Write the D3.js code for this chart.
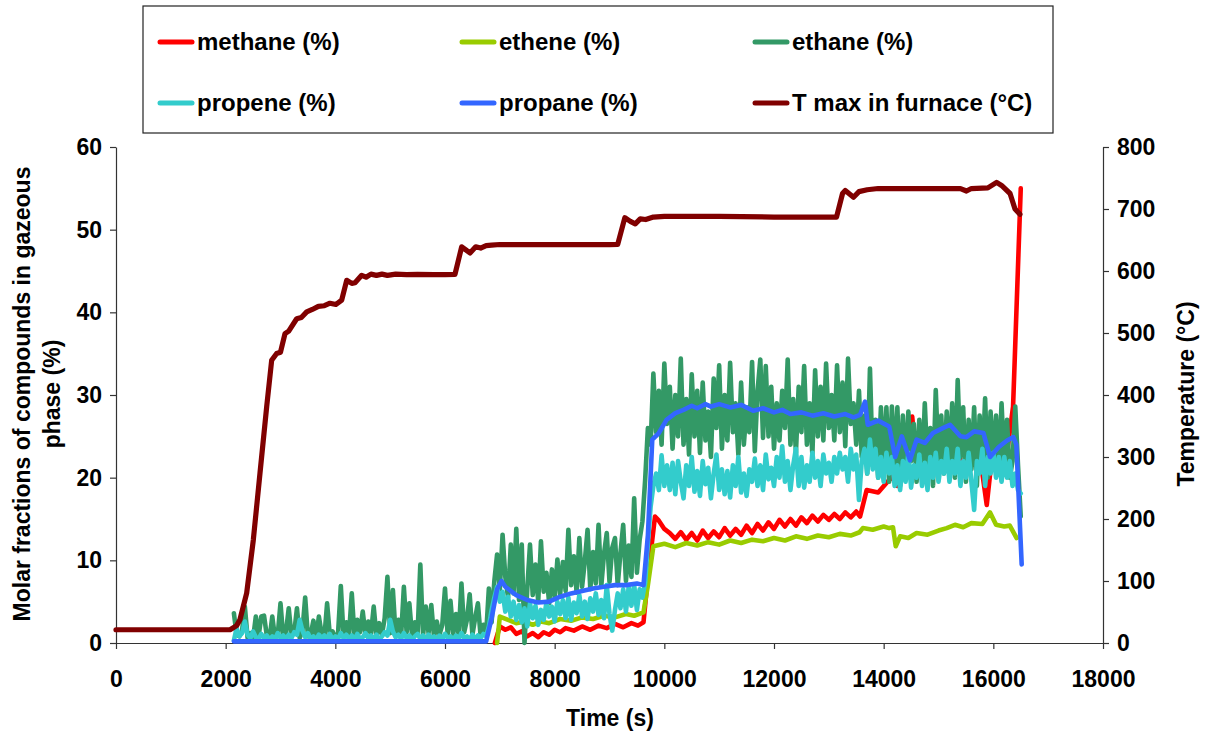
<!DOCTYPE html>
<html><head><meta charset="utf-8">
<script src="https://cdn.jsdelivr.net/npm/d3@7"></script>
<style>
body{margin:0;background:#fff;}
text{font-family:"Liberation Sans",Arial,sans-serif;font-weight:bold;fill:#000;}
</style>
</head><body>
<svg id="c" width="1207" height="735"></svg>
<script>
// ---------- DATA ----------
const xTicks = [0,2000,4000,6000,8000,10000,12000,14000,16000,18000];
const yLeftTicks = [0,10,20,30,40,50,60];
const yRightTicks = [0,100,200,300,400,500,600,700,800];

const seriesNames = ["methane (%)","ethene (%)","ethane (%)","propene (%)","propane (%)","T max in furnace (°C)"];
const seriesColors = ["#FF0000","#99CC00","#339966","#33CCCC","#3366FF","#800000"];

// sampling grid of the noisy analyser signals (s)
const gasGrid = d3.range(2150, 16501, 50);

const ethane = [
 3.6,1.0,0.8,1.5,4.4,0.6,1.2,0.5,3.2,0.8,3.2,3.3,0.9,0.5,3.2,0.6,1.0,4.8,0.7,1.3,
 4.2,0.9,1.2,4.2,0.6,1.5,5.5,0.8,1.0,2.7,0.5,3.2,1.1,0.7,4.8,0.9,1.4,0.6,1.2,6.9,
 0.8,2.5,1.0,6.0,0.7,2.8,1.3,3.8,0.9,2.6,1.1,4.4,0.8,2.4,1.0,3.0,8.0,1.2,6.4,0.9,
 2.8,0.9,6.8,1.3,4.8,0.8,2.5,1.1,9.5,0.9,4.4,1.2,4.6,0.7,2.6,1.0,2.2,6.6,0.8,5.1,
 1.1,3.5,0.9,7.2,1.3,2.8,5.9,1.0,3.0,4.8,0.8,2.2,1.0,6.6,2.5,7.5,10.7,6.5,13.1,8.0,
 5.5,11.9,6.0,13.8,5.2,11.9,0.0,6.5,11.9,5.8,9.5,5.0,12.3,6.2,8.5,4.8,8.9,5.5,10.1,5.9,
 9.8,6.3,13.7,7.0,10.5,6.1,12.7,6.8,9.9,13.7,6.5,11.0,7.2,14.3,6.9,10.8,13.3,7.4,11.5,12.7,
 7.0,10.9,14.3,7.5,11.8,8.0,17.5,8.5,12.5,14.7,19.7,26.0,24.0,32.6,25.5,30.5,24.0,33.8,26.5,31.0,
 23.5,30.0,25.0,34.4,24.0,29.5,22.8,32.5,25.0,30.5,23.0,31.5,24.5,28.0,22.5,32.0,26.0,33.6,23.5,30.0,
 24.5,33.9,25.5,29.0,22.8,31.5,24.0,28.5,25.5,34.0,23.2,30.5,34.3,24.8,33.5,25.0,31.0,23.5,29.0,24.5,
 30.5,26.0,34.3,24.0,29.5,23.0,31.0,25.5,33.5,24.0,29.0,22.8,33.0,25.0,31.0,24.5,33.8,26.0,30.0,24.5,
 33.6,25.5,31.5,23.8,34.4,26.5,29.0,24.0,30.5,22.5,27.5,20.5,33.2,21.5,27.0,20.0,28.5,21.0,28.5,19.5,
 28.6,21.0,28.5,19.0,27.5,20.5,28.0,22.0,26.5,19.5,27.0,20.0,29.0,21.5,26.0,19.0,30.6,22.0,27.5,20.5,
 28.0,21.5,29.0,20.0,31.8,22.5,28.5,19.5,27.0,21.0,28.5,19.0,27.5,21.0,29.6,20.0,28.0,22.0,27.5,20.5,
 29.0,21.5,27.0,20.0,22.0,28.6,21.5,15.3
];

const propene = [
 0.3,1.8,0.8,1.2,2.6,1.0,0.6,1.4,0.7,0.5,1.1,0.6,0.9,0.4,0.8,0.5,1.2,0.6,0.9,0.5,
 1.0,0.6,1.3,1.0,2.8,1.5,0.7,1.2,0.5,0.8,0.4,1.0,0.6,0.9,0.5,1.1,0.4,0.8,0.5,1.2,
 0.6,1.0,0.5,0.9,0.4,1.1,0.5,0.7,1.2,0.6,0.9,0.5,1.0,0.4,0.8,1.3,0.9,2.8,1.4,0.7,
 1.0,0.5,1.2,0.6,0.9,0.4,0.8,1.1,0.5,0.9,0.4,1.0,0.6,0.8,0.4,0.9,0.5,1.1,0.6,0.8,
 0.4,0.9,0.5,1.2,0.6,0.8,0.4,1.0,0.5,0.9,0.6,1.1,0.8,2.0,4.0,5.5,6.8,5.0,6.2,3.8,
 5.6,3.2,5.0,2.8,4.6,2.5,4.2,2.0,4.8,3.0,4.5,2.2,4.0,2.8,4.9,3.2,4.4,2.6,5.0,3.5,
 5.2,3.0,5.5,2.8,4.9,3.6,5.8,3.2,5.0,2.9,5.4,3.8,6.0,3.4,5.2,3.0,7.0,3.5,1.5,4.0,
 6.0,4.2,6.5,3.8,6.8,4.5,7.0,4.0,6.5,5.5,7.3,12.0,16.5,19.0,20.5,18.5,22.7,19.0,21.5,18.5,
 21.8,18.0,22.0,19.5,17.5,21.5,19.0,22.5,18.3,20.8,17.8,22.0,19.2,21.2,17.5,20.5,22.8,18.5,21.0,18.0,
 20.8,17.6,21.5,19.0,22.5,18.2,20.5,17.8,21.0,19.5,22.3,19.0,21.5,18.5,22.8,19.8,21.2,19.0,22.5,20.0,
 23.8,19.5,22.0,18.5,21.5,23.5,19.0,22.5,18.8,21.5,19.5,23.0,20.0,22.0,19.0,22.8,20.5,21.8,19.5,22.5,
 20.5,23.0,21.0,22.5,19.5,23.5,21.0,22.8,17.3,22.0,23.5,20.5,24.6,21.0,23.5,20.0,22.5,19.5,23.0,20.5,
 22.5,19.0,21.5,18.5,22.0,19.5,23.0,18.8,21.5,20.0,22.8,19.0,21.8,18.5,22.5,20.0,23.0,19.5,22.0,20.5,
 23.5,19.5,22.0,20.5,23.5,19.0,22.0,20.0,23.0,19.5,16.1,22.0,20.5,23.5,19.0,22.5,20.5,23.0,20.0,22.5,
 19.5,22.5,20.0,22.0,19.0,20.5,18.5,18.1
];

const propaneTime = [2150,6750,6850,6950,7030,7100,7300,7500,7700,7900,8100,8300,8500,8700,8900,9100,9300,9500,9620,9700,9780,9900,10040,10200,10350,10500,10600,10750,10850,11000,11200,11400,11620,11800,12000,12150,12300,12500,12700,12900,13100,13300,13450,13570,13660,13710,13900,14100,14210,14330,14480,14600,14750,14900,15050,15210,15400,15510,15650,15820,15940,16100,16250,16365,16420,16517];
const propane     = [0.2,0.2,3.0,6.5,7.5,6.8,5.8,5.2,4.9,5.0,5.6,6.0,6.3,6.6,6.8,7.0,7.0,7.2,7.0,13.0,24.6,25.4,27.0,27.8,28.2,28.7,28.4,28.9,28.6,28.9,28.5,28.8,28.1,28.4,27.9,28.2,27.7,27.9,27.5,27.8,27.4,27.7,27.3,27.6,29.2,26.4,26.9,26.2,22.5,25.0,22.1,24.6,24.2,25.4,25.9,26.4,25.0,24.9,25.6,25.4,22.5,23.7,24.5,24.9,24.0,9.5];

const etheneTime = [6950,7000,7150,7300,7450,7600,7750,7900,8100,8300,8500,8700,8900,9100,9300,9450,9620,9700,9800,10000,10200,10400,10600,10800,11000,11200,11400,11600,11800,12000,12200,12400,12600,12800,13000,13200,13400,13560,13620,13800,14000,14100,14170,14220,14300,14450,14600,14800,15000,15150,15300,15450,15600,15800,15940,16050,16200,16300,16425];
const ethene     = [0.0,3.2,2.8,2.4,2.6,2.2,2.6,2.4,2.9,2.7,3.1,2.9,3.3,3.1,3.5,3.3,3.7,7.0,11.7,12.0,11.6,12.1,11.8,12.2,11.9,12.4,12.1,12.5,12.3,12.7,12.4,12.9,12.6,13.0,12.8,13.2,13.0,13.4,13.9,13.7,14.1,13.9,14.0,11.7,12.9,12.7,13.3,13.1,13.6,13.9,14.3,14.0,14.5,14.4,15.8,14.3,14.1,14.2,12.7];

const methaneTime = [6910,7000,7100,7200,7300,7400,7500,7600,7700,7800,7900,8000,8100,8200,8350,8500,8650,8800,8950,9100,9250,9400,9520,9620,9700,9830,9900,10000,10100,10200,10300,10400,10500,10600,10700,10800,10900,11000,11100,11200,11300,11400,11500,11600,11700,11800,11900,12000,12100,12200,12300,12400,12500,12600,12700,12800,12900,13000,13100,13200,13300,13400,13500,13570,13690,13900,14150,14250,14450,14520,14600,14800,15000,15120,15300,15500,15700,15800,15880,15950,16100,16250,16360,16500];
const methane     = [0.0,2.0,1.6,1.9,1.1,1.4,0.8,1.2,0.7,1.3,1.0,1.6,1.3,1.8,1.5,2.0,1.6,2.1,1.8,2.3,1.9,2.4,2.1,2.5,8.0,15.3,14.8,13.8,13.3,12.6,13.4,12.5,13.3,12.4,13.6,12.7,13.5,12.8,13.9,13.0,13.8,13.1,14.2,13.3,14.4,13.6,14.6,13.8,14.9,14.1,15.0,14.2,15.2,14.5,15.4,14.7,15.5,14.9,15.6,15.0,15.8,15.2,15.9,15.3,18.5,18.2,20.1,19.0,22.5,27.4,21.5,22.0,22.5,23.3,22.5,21.8,21.5,20.5,16.7,21.0,22.0,23.0,28.6,55.0];

const tempTime = [0,2080,2200,2260,2383,2504,2626,2748,2839,2930,3000,3082,3150,3295,3380,3478,3580,3690,3800,3903,4010,4116,4207,4300,4359,4480,4560,4650,4750,4850,4950,5100,5300,5500,5800,6000,6182,6304,6380,6456,6560,6650,6750,6850,7000,8000,9000,9150,9280,9380,9470,9560,9660,9800,10000,11000,12000,13140,13250,13300,13450,13550,13700,13900,14500,15400,15510,15600,15900,16060,16150,16305,16395,16485];
const tempMax  = [21.4,21.4,28,37.5,80.5,166,274,381,456,467,469,499,503,523,525,534,538,543,544,548,546,553,585,580,581,593,590,595,593,595,593,595,594,594.5,594,594,594.4,639,634,629,639,637,641,641.6,642.7,642.7,642.7,643,686,680,676,684,683,687,688,688,687,687,725,730,719,728,731,733,733,733,729,733,734,743,738,725,700,691.5];

// ---------- CHART ----------
const svg = d3.select("#c");
const x = d3.scaleLinear().domain([0,18000]).range([116,1103]);
const yL = d3.scaleLinear().domain([0,60]).range([643,147]);
const yR = d3.scaleLinear().domain([0,800]).range([643,147]);
const FS = 23;

const axisColor = "#333";
function styleAxis(g){
  g.selectAll("path.domain").attr("stroke",axisColor).attr("stroke-width",1.2);
  g.selectAll(".tick line").attr("stroke",axisColor).attr("stroke-width",1.2);
  g.selectAll("text").attr("font-size",FS).attr("font-family",'"Liberation Sans",Arial,sans-serif').attr("font-weight","bold").attr("fill","#000");
}

const gx = svg.append("g").attr("transform","translate(0,643)")
  .call(d3.axisBottom(x).tickValues(xTicks).tickFormat(d3.format("d")).tickSize(6).tickSizeOuter(0).tickPadding(22));
styleAxis(gx);

const gl = svg.append("g").attr("transform","translate(116,0)")
  .call(d3.axisLeft(yL).tickValues(yLeftTicks).tickSize(6).tickSizeOuter(0).tickPadding(8));
styleAxis(gl);

const gr = svg.append("g").attr("transform","translate(1103,0)")
  .call(d3.axisRight(yR).tickValues(yRightTicks).tickSize(6).tickSizeOuter(0).tickPadding(8));
styleAxis(gr);

// series lines
const lineL = d3.line().x(d=>x(d[0])).y(d=>yL(d[1]));
const lineR = d3.line().x(d=>x(d[0])).y(d=>yR(d[1]));
const zip = (t,v)=>t.map((tt,i)=>[tt,v[i]]);

const gasData = [
  zip(methaneTime, methane),
  zip(etheneTime, ethene),
  zip(gasGrid, ethane),
  zip(gasGrid, propene),
  zip(propaneTime, propane)
];
const plot = svg.append("g");
gasData.forEach((d,i)=>{
  plot.append("path").datum(d).attr("d",lineL)
    .attr("fill","none").attr("stroke",seriesColors[i])
    .attr("stroke-width",4.6).attr("stroke-linejoin","round").attr("stroke-linecap","round");
});
plot.append("path").datum(zip(tempTime,tempMax)).attr("d",lineR)
  .attr("fill","none").attr("stroke",seriesColors[5])
  .attr("stroke-width",5.2).attr("stroke-linejoin","round").attr("stroke-linecap","round");

// axis titles
svg.append("text").attr("x",610).attr("y",726).attr("text-anchor","middle").attr("font-size",FS).text("Time (s)");
svg.append("text").attr("transform","translate(30,394) rotate(-90)").attr("text-anchor","middle").attr("font-size",FS).text("Molar fractions of compounds in gazeous");
svg.append("text").attr("transform","translate(60,394) rotate(-90)").attr("text-anchor","middle").attr("font-size",FS).text("phase (%)");
svg.append("text").attr("transform","translate(1194,394) rotate(-90)").attr("text-anchor","middle").attr("font-size",FS).text("Temperature (°C)");

// legend
const leg = svg.append("g");
leg.append("rect").attr("x",143).attr("y",6).attr("width",910).attr("height",127)
  .attr("fill","#fff").attr("stroke","#222").attr("stroke-width",1.2);
const legCols = [160, 462, 755];
const legRows = [42, 103];
seriesNames.forEach((n,i)=>{
  const lx = legCols[i%3], ly = legRows[Math.floor(i/3)];
  leg.append("line").attr("x1",lx).attr("x2",lx+32).attr("y1",ly).attr("y2",ly)
    .attr("stroke",seriesColors[i]).attr("stroke-width",5).attr("stroke-linecap","round");
  leg.append("text").attr("x",lx+37).attr("y",ly).attr("dy","0.35em").attr("font-size",24).text(n);
});
</script>
</body></html>
